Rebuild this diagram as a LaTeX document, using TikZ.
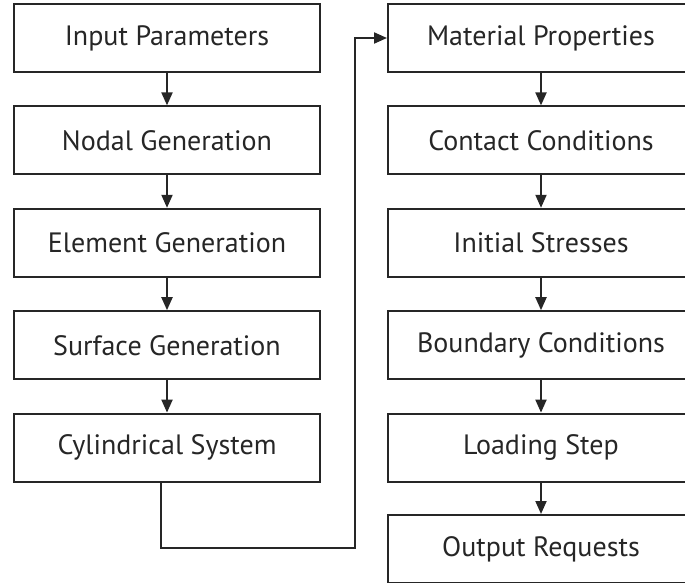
\documentclass[tikz,border=0pt]{standalone}
\usepackage{fontspec}
\setmainfont{PT Sans}
\usetikzlibrary{arrows.meta}
\begin{document}
\begin{tikzpicture}[x=1pt,y=-1pt,
  box/.style={draw=black!85, line width=2pt, minimum width=306pt, minimum height=68pt, inner sep=0pt, font=\fontsize{28}{32}\selectfont, text=black!85},
  conn/.style={draw=black!85, line width=2pt, -{Triangle[length=13pt,width=11pt]}}]
\path[use as bounding box, clip] (0,0) rectangle (685,583);
\node[box] (a1) at (167,38) {Input Parameters};
\node[box] (a2) at (167,140.4) {Nodal Generation};
\node[box] (a3) at (167,242.8) {Element Generation};
\node[box] (a4) at (167,345.2) {Surface Generation};
\node[box] (a5) at (167,447.6) {Cylindrical System};
\node[box] (b1) at (541,38) {Material Properties};
\node[box] (b2) at (541,140.4) {Contact Conditions};
\node[box] (b3) at (541,242.8) {Initial Stresses};
\node[box] (b4) at (541,345.2) {Boundary Conditions};
\node[box] (b5) at (541,447.6) {Loading Step};
\node[box] (b6) at (541,549) {Output Requests};
\foreach \p/\q in {a1/a2,a2/a3,a3/a4,a4/a5,b1/b2,b2/b3,b3/b4,b4/b5,b5/b6}
  \draw[conn] (\p.south) -- (\q.north);
\coordinate (s) at ([xshift=-6pt]a5.south);
\draw[conn] (s) |- (355,547.7) |- (b1.west);
\end{tikzpicture}
\end{document}
